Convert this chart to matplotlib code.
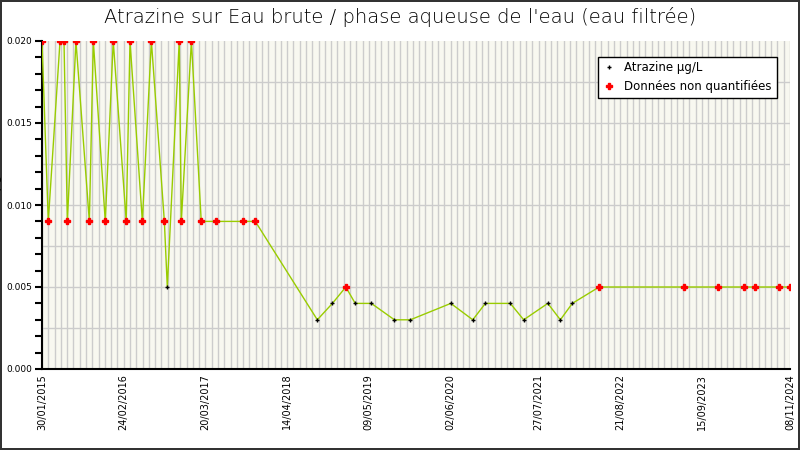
import datetime
import matplotlib
matplotlib.use("Agg")
import matplotlib.pyplot as plt
import matplotlib.dates as mdates
from matplotlib.ticker import MultipleLocator, FormatStrFormatter

# (date, value, non-quantified?)
dates = ["2015-01-30", "2015-03-01", "2015-04-26", "2015-05-15", "2015-05-31", "2015-07-11",
         "2015-09-13", "2015-10-02", "2015-11-28", "2016-01-05", "2016-03-07", "2016-03-25",
         "2016-05-23", "2016-07-05", "2016-09-05", "2016-09-19", "2016-11-15", "2016-11-25",
         "2017-01-12", "2017-02-28", "2017-05-11", "2017-09-17", "2017-11-13", "2018-09-05",
         "2018-11-16", "2019-01-19", "2019-03-05", "2019-05-21", "2019-09-08", "2019-11-23",
         "2020-06-03", "2020-09-16", "2020-11-15", "2021-03-14", "2021-05-17", "2021-09-09",
         "2021-11-08", "2022-01-04", "2022-05-12", "2023-06-23", "2023-12-02", "2024-04-04",
         "2024-05-27", "2024-09-18", "2024-11-08"]
values = [0.02, 0.009, 0.02, 0.02, 0.009, 0.02,
          0.009, 0.02, 0.009, 0.02, 0.009, 0.02,
          0.009, 0.02, 0.009, 0.005, 0.02, 0.009,
          0.02, 0.009, 0.009, 0.009, 0.009, 0.003,
          0.004, 0.005, 0.004, 0.004, 0.003, 0.003,
          0.004, 0.003, 0.004, 0.004, 0.003, 0.004,
          0.003, 0.004, 0.005, 0.005, 0.005, 0.005,
          0.005, 0.005, 0.005]
nq = [1, 1, 1, 1, 1, 1,
      1, 1, 1, 1, 1, 1,
      1, 1, 1, 0, 1, 1,
      1, 1, 1, 1, 1, 0,
      0, 1, 0, 0, 0, 0,
      0, 0, 0, 0, 0, 0,
      0, 0, 1, 1, 1, 1,
      1, 1, 1]
tick_dates = ["2015-01-30", "2016-02-24", "2017-03-20", "2018-04-14", "2019-05-09",
              "2020-06-02", "2021-07-27", "2022-08-21", "2023-09-15", "2024-11-08"]

parse = lambda d: datetime.datetime.strptime(d, "%Y-%m-%d")
x = [parse(d) for d in dates]
start = datetime.datetime(2015, 1, 30)
end = datetime.datetime(2024, 11, 8)

fig = plt.figure(figsize=(8, 4.5), dpi=100)
fig.patch.set_edgecolor("#333333")
fig.patch.set_linewidth(1.5)
ax = fig.add_axes([42 / 800, 81 / 450, 748 / 800, 328 / 450])
ax.set_facecolor("#f8f8f0")

ax.plot(x, values, color="#99cc00", linewidth=1, zorder=3)
qx = [d for d, f in zip(x, nq) if not f]
qy = [v for v, f in zip(values, nq) if not f]
nx = [d for d, f in zip(x, nq) if f]
ny = [v for v, f in zip(values, nq) if f]
ax.plot(qx, qy, "+", color="black", markersize=3, markeredgewidth=1, linestyle="none",
        label="Atrazine µg/L", zorder=4)
ax.plot(nx, ny, "P", color="red", markersize=4.5, linestyle="none",
        label="Données non quantifiées", zorder=5)

ax.set_xlim(start, end)
ax.set_ylim(0, 0.02)
t = start
while t <= end:
    ax.axvline(t, color="#cccccc", linewidth=1, zorder=1)
    t += datetime.timedelta(days=30)
for v in [0.0025 * i for i in range(1, 8)]:
    ax.axhline(v, color="#cccccc", linewidth=1, zorder=1)
ax.set_xticks([parse(d) for d in tick_dates])
ax.xaxis.set_major_formatter(mdates.DateFormatter("%d/%m/%Y"))
plt.setp(ax.get_xticklabels(), rotation=90, fontsize=7)
ax.tick_params(axis="x", length=0)
ax.yaxis.set_major_locator(MultipleLocator(0.005))
ax.yaxis.set_minor_locator(MultipleLocator(0.001))
ax.tick_params(axis="y", labelsize=6.5, length=5, width=1.5, pad=2)
ax.tick_params(axis="y", which="minor", length=5, width=1.5)
ax.yaxis.set_major_formatter(FormatStrFormatter("%.3f"))
for s in ["top", "right"]:
    ax.spines[s].set_visible(False)
ax.spines["left"].set_linewidth(1.5)
ax.spines["bottom"].set_linewidth(1.5)
ax.set_ylabel("Atrazine µg/L", fontsize=9, labelpad=3)
fig.suptitle("Atrazine sur Eau brute / phase aqueuse de l'eau (eau filtrée)", fontsize=14,
             y=0.985, fontweight="light")
leg = ax.legend(loc="upper right", bbox_to_anchor=(0.99, 0.97), fontsize=8.5, fancybox=False,
                framealpha=1, edgecolor="black", handlelength=1)
leg.get_frame().set_linewidth(1)

fig.savefig("out.png", dpi=100, edgecolor=fig.get_edgecolor())
